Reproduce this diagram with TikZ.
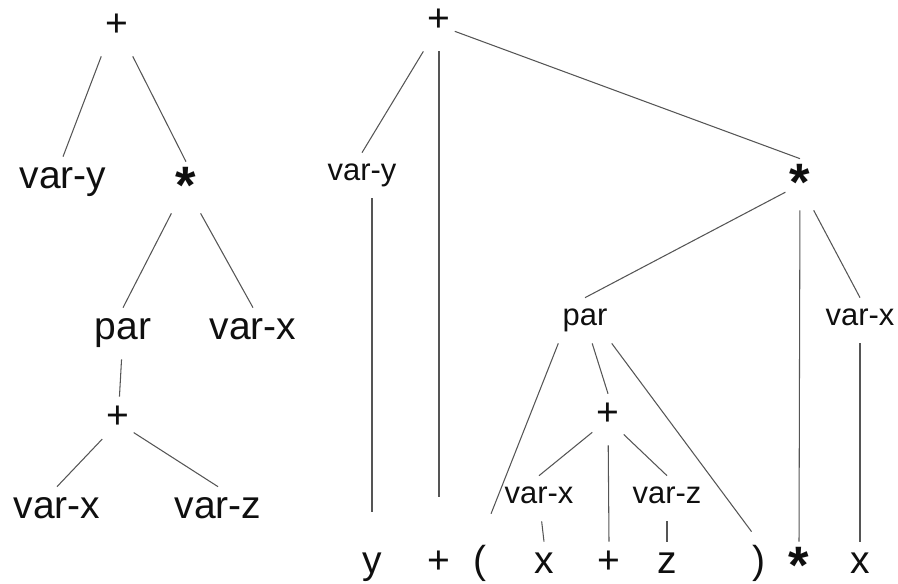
\documentclass[tikz,border=0pt]{standalone}
\usepackage{fontspec}
\setmainfont{Liberation Sans}
\usepackage{tikz}
\definecolor{ink}{RGB}{15,15,15}
\definecolor{wire}{RGB}{85,85,85}
\newcommand{\bigsz}{\fontsize{22.2pt}{26pt}\selectfont}
\newcommand{\smallsz}{\fontsize{17.6pt}{21pt}\selectfont}
\newcommand{\astr}{\raisebox{-0.27em}{\scalebox{1.35}{\bfseries *}}}
\tikzset{
  tok/.style={anchor=base,font=\bigsz,text=ink,inner xsep=0.08cm,
    inner ysep=0.2cm,text height=0.42cm,text depth=0.2cm},
  tag/.style={anchor=base,font=\smallsz,text=ink,inner xsep=0.08cm,
    inner ysep=0.2cm,text height=0.34cm,text depth=0.16cm},
  edge/.style={draw=wire,line width=0.6pt},
}

\begin{document}
\begin{tikzpicture}[x=0.02cm,y=-0.02cm]
  \useasboundingbox (0,0) rectangle (898,583);
  % abstract tree
  \node[tok] (lp)   at (117,36)  {+};
  \node[tok] (lvy)  at (63,188)  {var-y};
  \node[tok] (lst)  at (186,193) {\astr};
  \node[tok] (lpar) at (123,339) {par};
  \node[tok] (lvx)  at (253,339) {var-x};
  \node[tok] (lpl)  at (118,428) {+};
  \node[tok] (lvx2) at (57,518)  {var-x};
  \node[tok] (lvz)  at (218,518) {var-z};
  \draw[edge] (lp.south west) -- (lvy.north);
  \draw[edge] (lp.south east) -- (lst.north);
  \draw[edge] (lst.south west) -- (lpar.north);
  \draw[edge] (lst.south east) -- (lvx.north);
  \draw[edge] (lpar) -- (lpl);
  \draw[edge] (lpl) -- (lvx2.north);
  \draw[edge] (lpl) -- (lvz.north);

  % parse tree
  \node[tok] (rp)   at (439,31)  {+};
  \node[tag] (rvy)  at (362,180) {var-y};
  \node[tok] (rst)  at (800,190) {\astr};
  \node[tag] (rpar) at (585,325) {par};
  \node[tag] (rvx)  at (860,325) {var-x};
  \node[tok] (rpl)  at (608,425) {+};
  \node[tag] (rvx2) at (539,503) {var-x};
  \node[tag] (rvz)  at (667,503) {var-z};
  % tokens
  \node[tok] (ty)  at (372,573) {y};
  \node[tok] (tp1) at (439,573) {+};
  \node[tok] (tlp) at (480,573) {(};
  \node[tok] (tx1) at (544,573) {x};
  \node[tok] (tp2) at (609,573) {+};
  \node[tok] (tz)  at (667,573) {z};
  \node[tok] (trp) at (759,573) {)};
  \node[tok] (tst) at (799,573) {\astr};
  \node[tok] (tx2) at (860,573) {x};

  \foreach \a/\b in {rp/rvy,rp/rst,rst/rpar,rst/tst,rst/rvx,rvx/tx2,
      rpar/rpl,rpl/rvx2,rpl/tp2,rpl/rvz,rvx2/tx1,rvz/tz}
    \draw[edge] (\a) -- (\b.north);
  \draw[edge,shorten >=0.6cm] (rpar.south west) -- (tlp.north);
  \draw[edge,shorten >=0.25cm] (rpar.south east) -- (trp.north);
  \draw[edge,shorten >=0.9cm] (rp) -- (tp1);
  \draw[edge,shorten >=0.6cm] (rvy.south -| ty) -- (ty);
\end{tikzpicture}
\end{document}
